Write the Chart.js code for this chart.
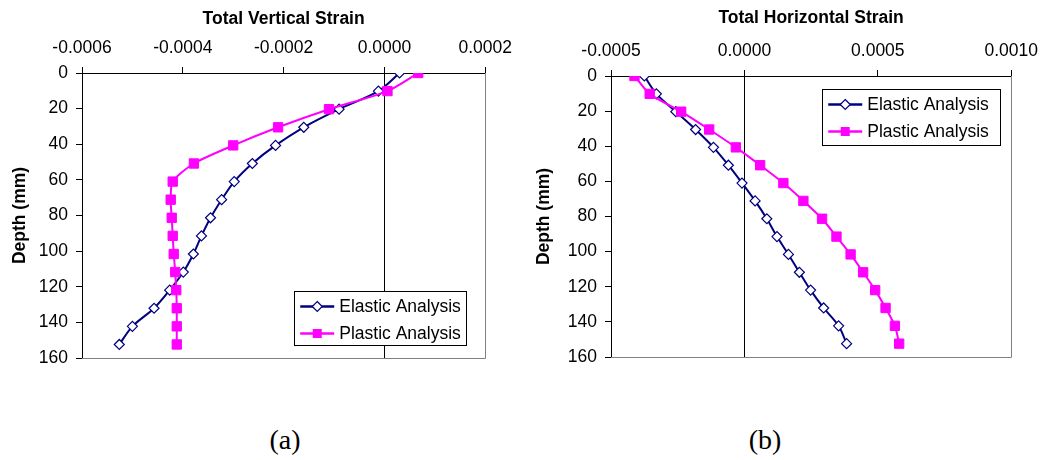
<!DOCTYPE html>
<html>
<head>
<meta charset="utf-8">
<title>Total strain vs depth</title>
<script src="https://cdn.jsdelivr.net/npm/chart.js@4/dist/chart.umd.min.js"></script>
<style>
body{margin:0;background:#fff;width:1046px;height:460px;position:relative;overflow:hidden;}
canvas{position:absolute;top:0;}
.cap{position:absolute;top:424px;width:80px;text-align:center;font-family:"Liberation Serif","Times New Roman",serif;font-size:28px;color:#000;}
</style>
</head>
<body>
<canvas id="vertChart" width="520" height="380" style="left:0px"></canvas>
<canvas id="horzChart" width="526" height="380" style="left:520px"></canvas>
<div class="cap" style="left:245px">(a)</div>
<div class="cap" style="left:725px">(b)</div>
<script>
// depth below surface, mm (0.4 in steps)
const depths = [0, 10.16, 20.32, 30.48, 40.64, 50.8, 60.96, 71.12, 81.28, 91.44, 101.6, 111.76, 121.92, 132.08, 142.24, 152.4];

const vertElastic = [0.000030, -0.000012, -0.000090, -0.000160, -0.000216, -0.000262, -0.000298, -0.000323,
    -0.000345, -0.000363, -0.000379, -0.000399, -0.000426, -0.000457, -0.000500, -0.000526];
const vertPlastic = [0.000067, 0.000006, -0.000110, -0.000211, -0.000300, -0.000378, -0.000420, -0.000424,
    -0.000422, -0.000420, -0.000418, -0.000415, -0.000413, -0.000412, -0.000412, -0.000412];

const horzElastic = [-0.000375, -0.000330, -0.000257, -0.000183, -0.000116, -0.000060, -0.000009, 0.000040,
    0.000084, 0.000122, 0.000165, 0.000206, 0.000248, 0.000297, 0.000353, 0.000383];
const horzPlastic = [-0.000412, -0.000355, -0.000237, -0.000132, -0.000032, 0.000059, 0.000146, 0.000221,
    0.000291, 0.000345, 0.000398, 0.000445, 0.000490, 0.000529, 0.000564, 0.000580];

const seriesNames = ["Elastic Analysis", "Plastic Analysis"];
const depthTicks = {min: 0, max: 160, step: 20};
const vertTicks = {min: -0.0006, max: 0.0002, step: 0.0002};
const horzTicks = {min: -0.0005, max: 0.0010, step: 0.0005};

const FONT = "'Liberation Sans', Arial, sans-serif";
const FS = 17.5;
const NAVY = "#000080";
const PINK = "#ff00ff";

function toPoints(xs){
    return depths.map((d,i) => ({x: xs[i], y: d}));
}

function fmt(v){
    if(Math.abs(v) < 1e-12) return "0.0000";
    return v.toFixed(4);
}

// grey plot-area frame on the right and bottom, like the spreadsheet plot area
const plotFrame = {
    id: "plotFrame",
    beforeDatasetsDraw(chart){
        const a = chart.chartArea;
        const ctx = chart.ctx;
        ctx.save();
        ctx.strokeStyle = "#808080";
        ctx.lineWidth = 1;
        ctx.beginPath();
        ctx.moveTo(Math.round(a.right)+0.5, a.top);
        ctx.lineTo(Math.round(a.right)+0.5, Math.round(a.bottom)+0.5);
        ctx.lineTo(a.left, Math.round(a.bottom)+0.5);
        ctx.stroke();
        ctx.restore();
    }
};

function drawMarker(ctx, kind, x, y){
    ctx.beginPath();
    if(kind == "diamond"){
        ctx.moveTo(x, y-5); ctx.lineTo(x+5, y); ctx.lineTo(x, y+5); ctx.lineTo(x-5, y); ctx.closePath();
        ctx.fillStyle = "#fff"; ctx.fill();
        ctx.strokeStyle = NAVY; ctx.lineWidth = 1.2; ctx.stroke();
    }else{
        ctx.rect(x-4.5, y-4.5, 9, 9);
        ctx.fillStyle = PINK; ctx.fill();
    }
}

// boxed legend sitting inside the plot area
const boxLegend = {
    id: "boxLegend",
    afterDraw(chart, args, opts){
        const ctx = chart.ctx;
        const a = chart.chartArea;
        const left = a.right - opts.right - opts.w;
        const top = opts.top != null ? a.top + opts.top : a.bottom - opts.bottom - opts.h;
        ctx.save();
        ctx.fillStyle = "#fff";
        ctx.fillRect(left, top, opts.w, opts.h);
        ctx.strokeStyle = "#000";
        ctx.lineWidth = 1;
        ctx.strokeRect(Math.round(left)+0.5, Math.round(top)+0.5, opts.w, opts.h);
        const rows = [[NAVY, "diamond"], [PINK, "square"]];
        rows.forEach((r,i) => {
            const y = top + 15.5 + i*27;
            ctx.strokeStyle = r[0];
            ctx.lineWidth = 2.5;
            ctx.beginPath();
            ctx.moveTo(left+6, y);
            ctx.lineTo(left+40, y);
            ctx.stroke();
            drawMarker(ctx, r[1], left+23, y);
            ctx.fillStyle = "#000";
            ctx.font = FS + "px " + FONT;
            ctx.textBaseline = "middle";
            ctx.textAlign = "left";
            ctx.fillText(seriesNames[i], left+45, y+1);
        });
        ctx.restore();
    }
};

function makeChart(id, cfg){
    return new Chart(document.getElementById(id), {
        type: "scatter",
        data: {
            datasets: [{
                label: seriesNames[0],
                data: toPoints(cfg.elastic),
                showLine: true,
                borderColor: NAVY,
                borderWidth: 2,
                tension: 0.3,
                pointStyle: "rectRot",
                pointRadius: 5,
                pointBackgroundColor: "#fff",
                pointBorderColor: NAVY,
                pointBorderWidth: 1.2,
                order: 1
            },{
                label: seriesNames[1],
                data: toPoints(cfg.plastic),
                showLine: true,
                borderColor: PINK,
                borderWidth: 2,
                tension: 0.25,
                pointStyle: "rect",
                pointRadius: 6.6,
                pointBackgroundColor: PINK,
                pointBorderColor: PINK,
                pointBorderWidth: 1,
                order: 0
            }]
        },
        options: {
            responsive: false,
            animation: false,
            layout: {padding: {left: 0, right: cfg.padRight, top: 0, bottom: cfg.padBottom}},
            plugins: {
                legend: {display: false},
                tooltip: {enabled: false},
                boxLegend: cfg.legend
            },
            scales: {
                x: {
                    type: "linear",
                    position: "top",
                    min: cfg.xt.min,
                    max: cfg.xt.max,
                    ticks: {
                        stepSize: cfg.xt.step,
                        callback: v => fmt(v),
                        color: "#000",
                        font: {family: FONT, size: FS},
                        padding: 8,
                        maxRotation: 0,
                        autoSkip: false
                    },
                    grid: {
                        color: c => (c.tick && Math.abs(c.tick.value) < 1e-12) ? "#000" : "rgba(0,0,0,0)",
                        tickColor: "#000",
                        tickLength: 6
                    },
                    border: {color: "#000", width: 1},
                    title: {
                        display: true,
                        text: cfg.title,
                        color: "#000",
                        font: {family: FONT, size: FS, weight: "bold"},
                        padding: {top: cfg.titlePad, bottom: 0}
                    },
                    afterFit: s => { s.height = cfg.top; }
                },
                y: {
                    type: "linear",
                    reverse: true,
                    min: depthTicks.min,
                    max: depthTicks.max,
                    ticks: {
                        stepSize: depthTicks.step,
                        color: "#000",
                        font: {family: FONT, size: FS},
                        padding: 8
                    },
                    grid: {drawOnChartArea: false, tickColor: "#000", tickLength: 6},
                    border: {color: "#000", width: 1},
                    title: {
                        display: true,
                        text: "Depth (mm)",
                        color: "#000",
                        font: {family: FONT, size: FS, weight: "bold"},
                        padding: {top: cfg.yTitlePad, bottom: 0}
                    },
                    afterFit: s => { s.width = cfg.left; }
                }
            }
        },
        plugins: [plotFrame, boxLegend]
    });
}

makeChart("vertChart", {
    elastic: vertElastic,
    plastic: vertPlastic,
    xt: vertTicks,
    title: "Total Vertical Strain",
    left: 82, top: 73, padRight: 34, padBottom: 22,
    titlePad: 9, yTitlePad: 10,
    legend: {right: 19, bottom: 13, w: 172, h: 54}
});

makeChart("horzChart", {
    elastic: horzElastic,
    plastic: horzPlastic,
    xt: horzTicks,
    title: "Total Horizontal Strain",
    left: 91, top: 76, padRight: 34, padBottom: 23,
    titlePad: 8, yTitlePad: 14,
    legend: {right: 11, top: 13, w: 178, h: 56}
});
</script>
</body>
</html>
